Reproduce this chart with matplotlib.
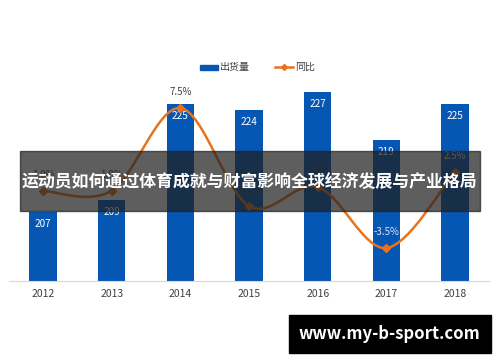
import matplotlib.pyplot as plt
import numpy as np
from matplotlib.path import Path
from matplotlib.patches import PathPatch, Rectangle

plt.rcParams['font.family'] = ['Noto Sans CJK SC', 'DejaVu Sans']

years = ["2012", "2013", "2014", "2015", "2016", "2017", "2018"]
shipments = [207, 209, 225, 224, 227, 219, 225]
yoy = [1.0, 1.0, 7.5, -0.2, 1.3, -3.5, 2.5]
yoy_labels = ["1.0%", "1.0%", "7.5%", "-0.2%", "1.3%", "-3.5%", "2.5%"]
title = "运动员如何通过体育成就与财富影响全球经济发展与产业格局"
site = "www.my-b-sport.com"

bar_c = '#0656B4'
line_c = '#E8731E'

fig = plt.figure(figsize=(5, 3.62), dpi=100)
ax = fig.add_axes([0.0174, 0.2238, 0.9613, 0.6657])
x = np.arange(len(years))

ax.bar(x, shipments, width=0.4, color=bar_c, zorder=2)
ax.set_ylim(195.5, 235.7)
ax.set_xlim(-0.5, 6.5)
for xi, v in zip(x, shipments):
    ax.text(xi, v - 1.2, str(v), ha='center', va='top', color='white', fontsize=7.2, zorder=3)

for s in ['top', 'right', 'left']:
    ax.spines[s].set_visible(False)
ax.spines['bottom'].set_color('#d9d9d9')
ax.set_yticks([])
ax.set_xticks(x)
ax.set_xticklabels(years, fontsize=7.5, color='#404040')
ax.tick_params(axis='x', length=0, pad=6)

ax2 = ax.twinx()
ax2.set_ylim(-6.09, 12.85)
ax2.axis('off')

# smooth curve (Catmull-Rom style bezier) through the yoy points
xs = list(x)
ys = list(yoy)
verts = [(xs[0], ys[0])]
codes = [Path.MOVETO]
t = 1 / 6
for i in range(len(xs) - 1):
    p0 = (xs[max(i - 1, 0)], ys[max(i - 1, 0)])
    p1 = (xs[i], ys[i])
    p2 = (xs[i + 1], ys[i + 1])
    p3 = (xs[min(i + 2, len(xs) - 1)], ys[min(i + 2, len(xs) - 1)])
    c1 = (p1[0] + (p2[0] - p0[0]) * t, p1[1] + (p2[1] - p0[1]) * t)
    c2 = (p2[0] - (p3[0] - p1[0]) * t, p2[1] - (p3[1] - p1[1]) * t)
    verts += [c1, c2, p2]
    codes += [Path.CURVE4] * 3
ax2.add_patch(PathPatch(Path(verts, codes), fill=False, edgecolor=line_c, lw=1.8, zorder=4))
ax2.plot(x, yoy, linestyle='none', marker='D', markersize=4, color=line_c, zorder=5)
for xi, v, lab in zip(x, yoy, yoy_labels):
    col = '#e0e4ec' if xi >= 5 else '#404040'
    ax2.annotate(lab, (xi, v), xytext=(0, 8), textcoords='offset points',
                 ha='center', va='bottom', fontsize=7, color=col)

# legend
fig.patches.append(Rectangle((0.400, 0.808), 0.036, 0.013, transform=fig.transFigure,
                             color=bar_c, figure=fig))
fig.text(0.439, 0.815, "出货量", fontsize=7.2, va='center', color='#404040')
fig.lines.append(plt.Line2D([0.549, 0.5675, 0.586], [0.815, 0.815, 0.815],
                            transform=fig.transFigure, color=line_c, lw=1.8,
                            marker='D', markersize=3, markevery=[1], figure=fig))
fig.text(0.590, 0.815, "同比", fontsize=7.2, va='center', color='#404040')

# overlay banner
fig.patches.append(Rectangle((0.04, 1 - 211 / 362), 0.92, 60 / 362, transform=fig.transFigure,
                             color='#202020', alpha=0.72, zorder=10, figure=fig))
fig.text(0.498, 1 - 182 / 362, title, ha='center', va='center', color='white',
         fontsize=12.2, fontweight='bold', zorder=11)

# watermark
fig.patches.append(Rectangle((289 / 500, 1 - 353 / 362), 202 / 500, 38 / 362,
                             transform=fig.transFigure, color='black', zorder=10, figure=fig))
fig.text(389 / 500, 1 - 334 / 362, site, ha='center', va='center', color='white',
         fontsize=12, fontweight='bold', zorder=11)

fig.savefig('out.png', dpi=100)
